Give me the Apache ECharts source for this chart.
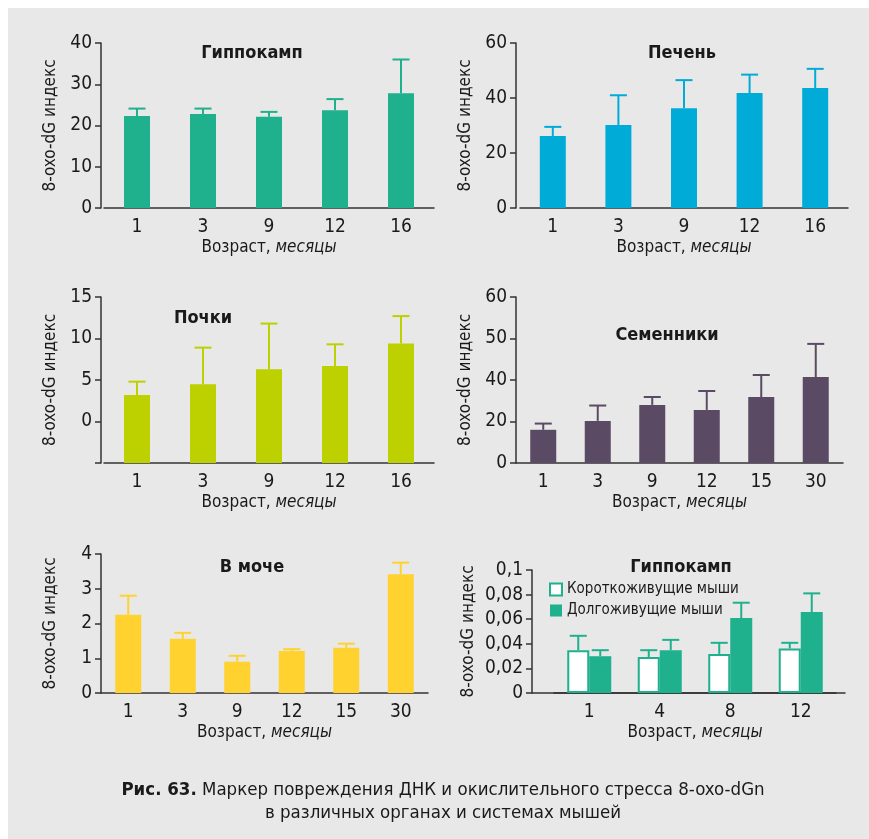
<!DOCTYPE html>
<html>
<head>
<meta charset="utf-8">
<script src="https://cdn.jsdelivr.net/npm/echarts@6/dist/echarts.min.js"></script>
<style>
  html, body { margin: 0; padding: 0; background: #ffffff; }
  #bg { position: absolute; left: 8px; top: 8px; width: 861px; height: 831px; background: #e8e8e8; }
  #chart { position: absolute; left: 0; top: 0; width: 869px; height: 839px; }
</style>
</head>
<body>
<div id="bg"></div>
<div id="chart"></div>
<script>
// ---------- data ----------
const agesA = ['1', '3', '9', '12', '16'];
const hippoMean = [22.3, 22.8, 22.1, 23.7, 27.8];
const hippoUpper = [24.1, 24.1, 23.3, 26.4, 36.0];
const liverMean = [26.2, 30.2, 36.3, 41.8, 43.6];
const liverUpper = [29.5, 41.0, 46.5, 48.5, 50.6];
const kidneyMean = [3.2, 4.5, 6.3, 6.7, 9.4];
const kidneyUpper = [4.8, 8.9, 11.8, 9.3, 12.7];
const agesB = ['1', '3', '9', '12', '15', '30'];
const testisMean = [16.0, 20.3, 28.0, 25.6, 31.8, 41.4];
const testisUpper = [19.0, 27.7, 31.8, 34.7, 42.4, 57.4];
const testisTickLabels = ['0', '20', '40', '50', '60'];
const urineMean = [2.25, 1.56, 0.90, 1.21, 1.30, 3.42];
const urineUpper = [2.80, 1.73, 1.07, 1.26, 1.42, 3.75];
const agesC = ['1', '4', '8', '12'];
const shortMean = [0.0348, 0.0293, 0.0318, 0.0362];
const shortUpper = [0.0465, 0.0348, 0.0408, 0.0408];
const longMean = [0.0299, 0.0348, 0.0609, 0.0658];
const longUpper = [0.0348, 0.0432, 0.0734, 0.0810];
const seriesNames = ['Короткоживущие мыши', 'Долгоживущие мыши'];
const panelTitles = ['Гиппокамп', 'Печень', 'Почки', 'Семенники', 'В моче', 'Гиппокамп'];
const yName = '8-oxo-dG индекс';
const xName = 'Возраст, {i|месяцы}';

// ---------- style ----------
const FONT = '"DejaVu Sans Condensed", "Liberation Sans Narrow", Roboto, sans-serif';
const TXT = '#1a1a1a';
const AX = '#333333';
const C_HIPPO = '#1fb08d';
const C_LIVER = '#00abd8';
const C_KIDNEY = '#bdd000';
const C_TESTIS = '#5b4a63';
const C_URINE = '#ffd22f';

function yAxisCfg(gi, min, max, interval, offset, nameGap, formatter) {
  return {
    type: 'value', gridIndex: gi, min: min, max: max, interval: interval, offset: offset,
    name: yName, nameLocation: 'middle', nameGap: nameGap, nameRotate: 90,
    nameTextStyle: { fontFamily: FONT, fontSize: 17, color: TXT },
    axisLine: { show: true, lineStyle: { color: AX, width: 1.5 } },
    axisTick: { show: true, length: 6, lineStyle: { color: AX, width: 1.5 } },
    axisLabel: { fontFamily: FONT, fontSize: 19, color: TXT, margin: 9, formatter: formatter },
    splitLine: { show: false }
  };
}
function xAxisCfg(gi, cats) {
  return {
    type: 'category', gridIndex: gi, data: cats,
    axisLine: { onZero: false, lineStyle: { color: AX, width: 1.5 } },
    axisTick: { alignWithLabel: true, length: 6, lineStyle: { color: AX, width: 1.5 } },
    axisLabel: { fontFamily: FONT, fontSize: 19, color: TXT, margin: 10 },
    name: xName, nameLocation: 'middle', nameGap: 31,
    nameTextStyle: { fontFamily: FONT, fontSize: 17, color: TXT,
      rich: { i: { fontFamily: FONT, fontSize: 17, color: TXT, fontStyle: 'italic' } } }
  };
}
function errSeries(gi, means, uppers, color, offsetPx) {
  return {
    type: 'custom', xAxisIndex: gi, yAxisIndex: gi, z: 3,
    data: means.map((m, i) => [i, m, uppers[i]]),
    renderItem: function (params, api) {
      const lo = api.coord([api.value(0), api.value(1)]);
      const hi = api.coord([api.value(0), api.value(2)]);
      const cx = lo[0] + offsetPx;
      const st = { stroke: color, lineWidth: 2 };
      return { type: 'group', children: [
        { type: 'line', shape: { x1: cx, y1: lo[1], x2: cx, y2: hi[1] }, style: st },
        { type: 'line', shape: { x1: cx - 8.5, y1: hi[1], x2: cx + 8.5, y2: hi[1] }, style: st }
      ] };
    }
  };
}
function barSeries(gi, means, color) {
  return { type: 'bar', xAxisIndex: gi, yAxisIndex: gi, barWidth: 26, data: means,
    itemStyle: { color: color }, z: 2 };
}
function floorBarSeries(gi, means, color) {
  // bars drawn from the bottom of the plot (axis minimum)
  return {
    type: 'custom', xAxisIndex: gi, yAxisIndex: gi, z: 2,
    data: means.map((m, i) => [i, m]),
    renderItem: function (params, api) {
      const top = api.coord([api.value(0), api.value(1)]);
      const bottom = params.coordSys.y + params.coordSys.height;
      return { type: 'rect', shape: { x: top[0] - 13, y: top[1], width: 26, height: bottom - top[1] },
        style: { fill: color } };
    }
  };
}
function titleText(txt, x, y) {
  return { type: 'text', x: x, y: y, style: { text: txt, textAlign: 'center', textVerticalAlign: 'middle',
    font: 'bold 18px ' + FONT, fill: TXT } };
}

const option = {
  animation: false,
  grid: [
    { left: 104, top: 43, width: 330, height: 165 },
    { left: 520, top: 43, width: 328, height: 165 },
    { left: 104, top: 297, width: 330, height: 166 },
    { left: 516, top: 297, width: 327, height: 166 },
    { left: 101, top: 554, width: 327, height: 139 },
    { left: 554, top: 570, width: 282, height: 123 },
    { left: 532, top: 570, width: 313, height: 123 }
  ],
  xAxis: [
    xAxisCfg(0, agesA), xAxisCfg(1, agesA), xAxisCfg(2, agesA),
    xAxisCfg(3, agesB), xAxisCfg(4, agesB), xAxisCfg(5, agesC),
    { type: 'category', gridIndex: 6, data: [''], axisLine: { onZero: false, lineStyle: { color: AX, width: 1.5 } },
      axisTick: { show: false }, axisLabel: { show: false } }
  ],
  yAxis: [
    yAxisCfg(0, 0, 40, 10, 3, 42),
    yAxisCfg(1, 0, 60, 20, 4, 42),
    yAxisCfg(2, -5, 15, 5, 3, 42, v => (v < 0 ? '' : String(v))),
    yAxisCfg(3, 0, 80, 20, 0, 42, v => testisTickLabels[Math.round(v / 20)]),
    yAxisCfg(4, 0, 4, 1, 0, 42),
    yAxisCfg(5, 0, 0.1, 0.02, 22, 55, v => String(+v.toFixed(2)).replace('.', ',')),
    { type: 'value', gridIndex: 6, show: false, min: 0, max: 1 }
  ],
  legend: {
    left: 544, top: 577, orient: 'vertical', itemWidth: 12, itemHeight: 12, itemGap: 6,
    icon: 'rect', selectedMode: false, data: seriesNames,
    textStyle: { fontFamily: FONT, fontSize: 15, color: TXT }
  },
  series: [
    barSeries(0, hippoMean, C_HIPPO), errSeries(0, hippoMean, hippoUpper, C_HIPPO, 0),
    barSeries(1, liverMean, C_LIVER), errSeries(1, liverMean, liverUpper, C_LIVER, 0),
    floorBarSeries(2, kidneyMean, C_KIDNEY), errSeries(2, kidneyMean, kidneyUpper, C_KIDNEY, 0),
    barSeries(3, testisMean, C_TESTIS), errSeries(3, testisMean, testisUpper, C_TESTIS, 0),
    barSeries(4, urineMean, C_URINE), errSeries(4, urineMean, urineUpper, C_URINE, 0),
    { type: 'bar', name: seriesNames[0], xAxisIndex: 5, yAxisIndex: 5, barWidth: 22, barGap: '0%',
      data: shortMean, itemStyle: { color: '#ffffff', borderColor: C_HIPPO, borderWidth: 2 } },
    { type: 'bar', name: seriesNames[1], xAxisIndex: 5, yAxisIndex: 5, barWidth: 22, barGap: '0%',
      data: longMean, itemStyle: { color: C_HIPPO } },
    errSeries(5, shortMean, shortUpper, C_HIPPO, -11),
    errSeries(5, longMean, longUpper, C_HIPPO, 11)
  ],
  graphic: [
    titleText(panelTitles[0], 252, 53),
    titleText(panelTitles[1], 682, 53),
    titleText(panelTitles[2], 203, 318),
    titleText(panelTitles[3], 667, 335),
    titleText(panelTitles[4], 252, 567),
    titleText(panelTitles[5], 681, 567),
    { type: 'text', x: 443, y: 790, style: {
        text: '{b|Рис. 63.} Маркер повреждения ДНК и окислительного стресса 8-oxo-dGn',
        textAlign: 'center', textVerticalAlign: 'middle', font: '18.5px ' + FONT, fill: TXT,
        rich: { b: { fontWeight: 'bold', fontFamily: FONT, fontSize: 18.5, fill: TXT } } } },
    { type: 'text', x: 443, y: 813, style: {
        text: 'в различных органах и системах мышей',
        textAlign: 'center', textVerticalAlign: 'middle', font: '18.5px ' + FONT, fill: TXT } }
  ]
};
const chart = echarts.init(document.getElementById('chart'), null, { renderer: 'canvas' });
chart.setOption(option);
</script>
</body>
</html>
